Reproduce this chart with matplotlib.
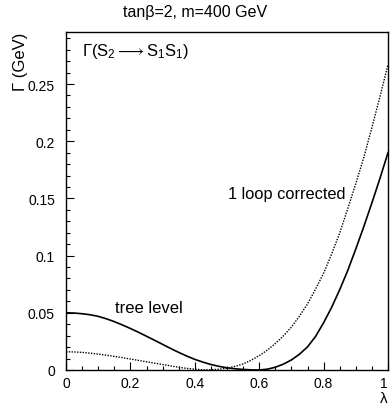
import matplotlib
matplotlib.use("Agg")
import matplotlib.pyplot as plt
from matplotlib.ticker import MultipleLocator, FixedLocator

plt.rcParams['font.family'] = ['Liberation Sans', 'DejaVu Sans']
plt.rcParams['mathtext.fontset'] = 'custom'
plt.rcParams['mathtext.rm'] = 'Liberation Sans'
plt.rcParams['mathtext.it'] = 'Liberation Sans:italic'
plt.rcParams['mathtext.fallback'] = 'stixsans'

lam = [0.0, 0.025, 0.05, 0.075, 0.1, 0.125, 0.15, 0.175, 0.2, 0.225, 0.25,
       0.275, 0.3, 0.325, 0.35, 0.375, 0.4, 0.425, 0.45, 0.475, 0.5,
       0.525, 0.55, 0.575, 0.6, 0.625, 0.65, 0.675, 0.7, 0.725, 0.75,
       0.775, 0.8, 0.825, 0.85, 0.875, 0.9, 0.925, 0.95, 0.975, 1.0]
tree = [0.0500, 0.0498, 0.0492, 0.0483, 0.0469, 0.0448, 0.0423, 0.0394,
        0.0363, 0.0330, 0.0295, 0.0260, 0.0224, 0.0188, 0.0154, 0.0122,
        0.0093, 0.0069, 0.0048, 0.0032, 0.0019, 0.0011, 0.0005, 0.0001,
        0.0, 0.0007, 0.0024, 0.0051, 0.0088, 0.0138, 0.0202, 0.0293,
        0.0413, 0.0548, 0.0702, 0.0870, 0.1058, 0.1255, 0.1461, 0.1675,
        0.1900]
loop = [0.0159, 0.0158, 0.0154, 0.0147, 0.0139, 0.0130, 0.0119, 0.0108,
        0.0096, 0.0084, 0.0072, 0.0060, 0.0048, 0.0036, 0.0024, 0.0014,
        0.0007, 0.0002, 0.0002, 0.0007, 0.0016, 0.0032, 0.0053, 0.0085,
        0.0125, 0.0173, 0.0231, 0.0298, 0.0375, 0.0471, 0.0577, 0.0707,
        0.0846, 0.1014, 0.1197, 0.1410, 0.1630, 0.1860, 0.2120, 0.2390,
        0.2670]

title = "tanβ=2, m=400 GeV"
ylabel = "Γ (GeV)"
xlabel = "λ"
process = r"Γ(S$_2\longrightarrow$S$_1$S$_1$)"
label_tree = "tree level"
label_loop = "1 loop corrected"
xticks = [0, 0.2, 0.4, 0.6, 0.8, 1.0]
xticklabels = ['0', '0.2', '0.4', '0.6', '0.8', '1']
yticks = [0, 0.05, 0.1, 0.15, 0.2, 0.25]
yticklabels = ['0', '0.05', '0.1', '0.15', '0.2', '0.25']

fig = plt.figure(figsize=(3.9, 4.06), dpi=100)
ax = fig.add_axes([66/390, 1-371/406, (388-66)/390, (371-33)/406])

ax.plot(lam, tree, color='black', lw=1.2)
ax.plot(lam, loop, color='black', lw=1.0, linestyle=(0, (1.0, 1.0)))

ax.set_xlim(0, 1)
ax.set_ylim(0, 0.2955)
ax.xaxis.set_major_locator(FixedLocator(xticks))
ax.xaxis.set_minor_locator(MultipleLocator(0.05))
ax.yaxis.set_major_locator(FixedLocator(yticks))
ax.yaxis.set_minor_locator(MultipleLocator(0.01))
ax.set_xticklabels(xticklabels)
ax.set_yticklabels(yticklabels)
ax.tick_params(which='both', direction='in', top=False, right=False,
               labelsize=10, width=0.8)
ax.tick_params(axis='y', which='major', length=6, pad=8)
ax.tick_params(axis='x', which='major', length=6, pad=4)
ax.tick_params(which='minor', length=3)
ax.get_xticklabels()[-1].set_horizontalalignment('right')
for s in ax.spines.values():
    s.set_linewidth(1.0)

fig.text(0.5, 1 - 12/406, title, ha='center', va='center', fontsize=11.5)
fig.text(20/390, 1 - 33/406, ylabel, rotation=90, ha='center', va='top', fontsize=12)
fig.text(388/390, 1 - 399/406, xlabel, ha='right', va='center', fontsize=11)

ax.text(0.05, 0.279, process, fontsize=12, ha='left', va='center')
ax.text(0.152, 0.055, label_tree, fontsize=12, ha='left', va='center')
ax.text(0.503, 0.154, label_loop, fontsize=11.8, ha='left', va='center')

fig.savefig('out.png', dpi=100)
